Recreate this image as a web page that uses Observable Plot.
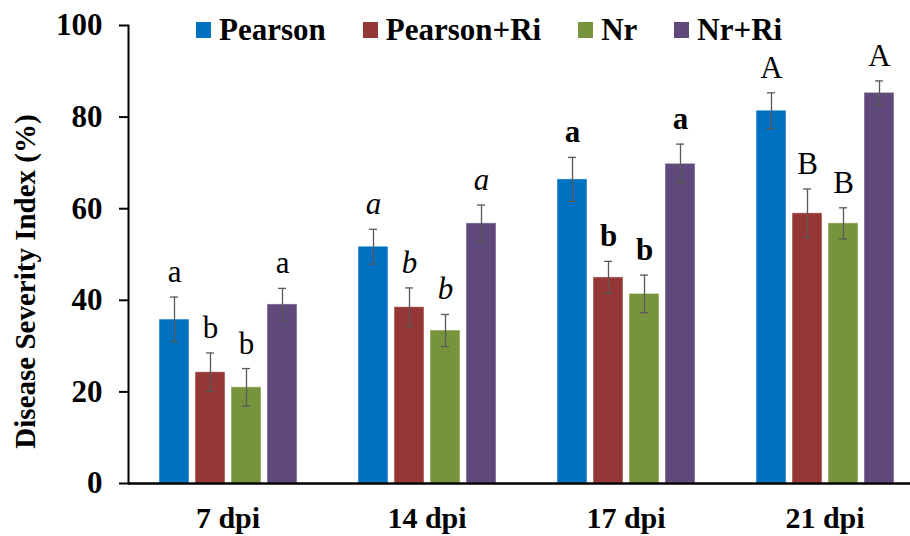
<!DOCTYPE html>
<html><head><meta charset="utf-8">
<script src="https://cdn.jsdelivr.net/npm/d3@7"></script>
<script src="https://cdn.jsdelivr.net/npm/@observablehq/plot@0.6"></script>
<style>
body{margin:0;background:#fff;}
#wrap{position:relative;width:910px;height:536px;}
#legend{position:absolute;top:13px;left:196px;display:flex;align-items:center;font-family:"Liberation Serif","Times New Roman",serif;font-weight:bold;font-size:31px;color:#000;line-height:34px;}
.item{display:flex;align-items:center;margin-right:37px}
.sw{width:15px;height:16px;margin-right:8px}
</style></head><body><div id="wrap"><div id="legend"></div></div>
<script>
const groups = ["7 dpi", "14 dpi", "17 dpi", "21 dpi"];
const series = ["Pearson", "Pearson+Ri", "Nr", "Nr+Ri"];
const colors = ["#0070C0", "#953735", "#77933C", "#604A7B"];
const yTicks = [0, 20, 40, 60, 80, 100];
const yLabel = "Disease Severity Index (%)";

const pearson    = [35.8, 51.7, 66.4, 81.4];
const pearsonRi  = [24.3, 38.5, 45.0, 59.0];
const nr         = [21.0, 33.4, 41.4, 56.8];
const nrRi       = [39.1, 56.8, 69.8, 85.3];

const errPearson   = [4.9, 3.8, 4.8, 3.9];
const errPearsonRi = [4.2, 4.2, 3.5, 5.3];
const errNr        = [4.1, 3.5, 4.1, 3.4];
const errNrRi      = [3.5, 4.0, 4.3, 2.6];

const letPearson   = ["a", "a", "a", "A"];
const letPearsonRi = ["b", "b", "b", "B"];
const letNr        = ["b", "b", "b", "B"];
const letNrRi      = ["a", "a", "a", "A"];
const groupLetterStyle = ["normal", "italic", "bold", "normal"];

const values = [pearson, pearsonRi, nr, nrRi];
const errs = [errPearson, errPearsonRi, errNr, errNrRi];
const lets = [letPearson, letPearsonRi, letNr, letNrRi];

const rows = [];
groups.forEach((g, i) => series.forEach((s, j) => rows.push({
  group: g, series: s, value: values[j][i], err: errs[j][i], letter: lets[j][i], style: groupLetterStyle[i]
})));

const legend = document.getElementById("legend");
series.forEach((s, j) => {
  const it = document.createElement("div"); it.className = "item";
  const sw = document.createElement("div"); sw.className = "sw"; sw.style.background = colors[j];
  const tx = document.createElement("span"); tx.textContent = s;
  it.appendChild(sw); it.appendChild(tx); legend.appendChild(it);
});

const errColor = "#595959";
const fam = "'Liberation Serif','Times New Roman',serif";
const letterMark = (style, opts) => Plot.text(rows.filter(d => d.style === style), {
  fx: "group", x: "series", y: d => d.value + d.err, text: "letter",
  lineAnchor: "bottom", dy: -15, fontSize: 31, fill: "#000", ...opts
});

const chart = Plot.plot({
  width: 910, height: 536,
  marginLeft: 127, marginRight: 0, marginTop: 25, marginBottom: 53,
  style: {fontFamily: fam, fontSize: "31px", fontWeight: "bold", background: "transparent", color: "#000"},
  fx: {domain: groups, range: [127, 925], padding: 0, label: null},
  x: {domain: series, paddingInner: 0.167, paddingOuter: 0.847, axis: null},
  y: {domain: [0, 100]},
  color: {domain: series, range: colors},
  marks: [
    Plot.barY(rows, {fx: "group", x: "series", y: "value", fill: "series", stroke: "white", strokeOpacity: 0.5, strokeWidth: 1}),
    Plot.ruleX(rows, {fx: "group", x: "series", y1: d => d.value - d.err, y2: d => d.value + d.err, stroke: errColor, strokeWidth: 1.3}),
    Plot.tickY(rows, {fx: "group", x: "series", y: d => d.value + d.err, stroke: errColor, strokeWidth: 1.3, insetLeft: 11, insetRight: 11}),
    Plot.tickY(rows, {fx: "group", x: "series", y: d => d.value - d.err, stroke: errColor, strokeWidth: 1.3, insetLeft: 11, insetRight: 11}),
    letterMark("normal", {fontWeight: "normal", fontStyle: "normal"}),
    letterMark("italic", {fontWeight: "normal", fontStyle: "italic"}),
    letterMark("bold", {fontWeight: "bold", fontStyle: "normal"}),
    Plot.ruleY([0], {stroke: "#000", strokeWidth: 2.5}),
    Plot.frame({anchor: "left", facetAnchor: "left", stroke: "#000", strokeWidth: 2}),
    Plot.axisY({ticks: yTicks, tickSize: 9, tickPadding: 17, strokeWidth: 2, stroke: "#000", fontSize: 31, fontWeight: "bold", label: null}),
    Plot.text([yLabel], {facetAnchor: "left", frameAnchor: "left", rotate: -90, lineAnchor: "top", textAnchor: "middle",
      dx: -114, dy: 27, fontSize: 29, fontWeight: "bold", fill: "#000"}),
    Plot.axisFx({anchor: "bottom", tickSize: 0, tickPadding: 23, label: null, fontSize: 30, fontWeight: "bold"})
  ]
});
document.getElementById("wrap").insertBefore(chart, legend);
chart.style.position = "absolute"; chart.style.left = "0"; chart.style.top = "0";
</script>
</body></html>
